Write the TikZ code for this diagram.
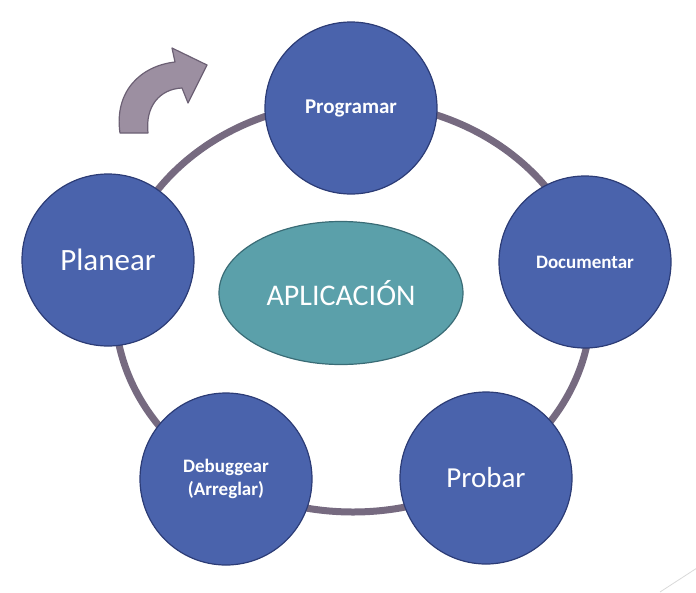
\documentclass[tikz,border=0pt]{standalone}
\usepackage{fontspec}
\usetikzlibrary{shapes.geometric}
\setmainfont{Carlito}
\definecolor{etapa}{RGB}{74,99,172}
\definecolor{etapaborde}{RGB}{44,60,118}
\definecolor{anillo}{RGB}{118,106,128}
\definecolor{centro}{RGB}{91,160,170}
\definecolor{centroborde}{RGB}{58,108,118}
\definecolor{flecha}{RGB}{156,143,161}
\definecolor{flechaborde}{RGB}{108,96,116}
\begin{document}
\begin{tikzpicture}[x=1pt,y=-1pt,
	etapabox/.style={circle,draw=etapaborde,fill=etapa,line width=1.2pt,
		minimum size=172pt,inner sep=0pt,text=white,align=center},
	chico/.style={font=\fontsize{19}{23}\selectfont\bfseries},
	grande/.style={font=\fontsize{30}{32}\selectfont}]
	\useasboundingbox (0,0) rectangle (696,592);
	% anillo del ciclo
	\draw[anillo,line width=7pt] (353,307) ellipse [x radius=238pt, y radius=205pt];
	% flecha curva
	\draw[flechaborde,fill=flecha,line width=1.2pt,line join=round]
		(120,133) .. controls (114,92) and (140,66) .. (175,62)
		-- (172,48) -- (207,65) -- (188,103) -- (182,88)
		.. controls (160,89) and (145,106) .. (148,133) -- cycle;
	% etapas
	\node[etapabox,chico,font=\fontsize{21}{24}\selectfont\bfseries] (programar) at (351,108) {Programar};
	\node[etapabox,chico] (documentar) at (585,262) {Documentar};
	\node[etapabox,grande,font=\fontsize{29}{32}\selectfont] (probar) at (486,478) {Probar};
	\node[etapabox,chico] (debuggear) at (226,479) {Debuggear\\(Arreglar)};
	\node[etapabox,grande,font=\fontsize{31}{33}\selectfont] (planear) at (108,260) {Planear};
	% centro
	\node[ellipse,draw=centroborde,fill=centro,line width=1.2pt,inner sep=0pt,
		minimum width=244pt,minimum height=143pt,text=white,grande] (aplicacion) at (341,293) {APLICACIÓN};
	% esquina
	\draw[black!15,line width=0.8pt] (660,592) -- (697,568);
\end{tikzpicture}
\end{document}
